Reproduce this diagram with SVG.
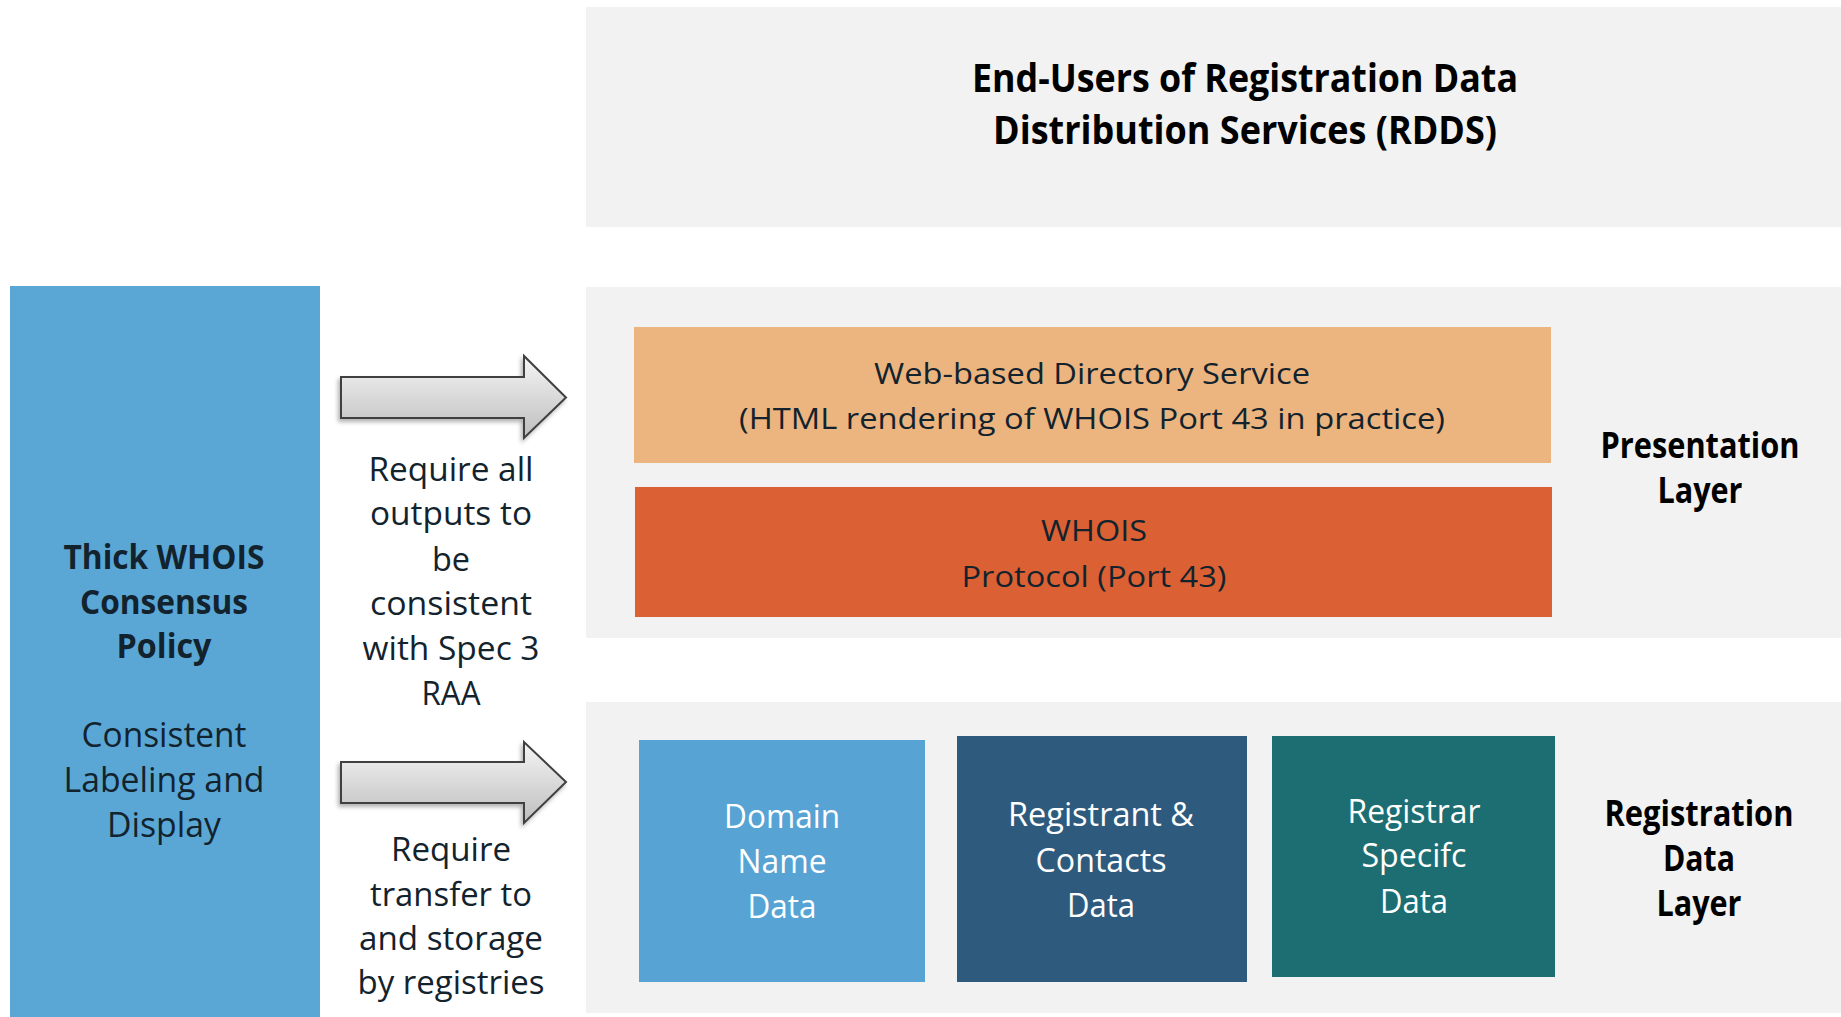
<svg xmlns="http://www.w3.org/2000/svg" width="1841" height="1017" viewBox="0 0 1841 1017">
<style>
.layer{fill:#F2F2F2}
.t{font-family:"Open Sans","Noto Sans","Liberation Sans",sans-serif;text-anchor:middle}
.dark{fill:#13232D}
.blk{fill:#000000}
.wht{fill:#FFFFFF}
.b{font-weight:bold}
.arrow{fill:url(#ag);stroke:#3F3F3F;stroke-width:2;filter:url(#sh)}
</style>
<defs>
<linearGradient id="ag" x1="0" y1="0" x2="0" y2="1">
<stop offset="0" stop-color="#F5F5F5"/>
<stop offset="1" stop-color="#BEBEBE"/>
</linearGradient>
<filter id="sh" x="-10%" y="-20%" width="120%" height="150%">
<feDropShadow dx="-2" dy="3" stdDeviation="2" flood-color="#000" flood-opacity="0.3"/>
</filter>
</defs>
<rect width="1841" height="1017" fill="#FFFFFF"/>

<g id="end-users">
<rect class="layer" x="586" y="7" width="1255" height="220"/>
<text class="t blk b" x="1245" y="92" font-size="40" textLength="546" lengthAdjust="spacingAndGlyphs">End-Users of Registration Data</text>
<text class="t blk b" x="1245" y="144" font-size="40" textLength="504" lengthAdjust="spacingAndGlyphs">Distribution Services (RDDS)</text>
</g>

<g id="presentation-layer">
<rect class="layer" x="586" y="287" width="1255" height="351"/>
<text class="t blk b" x="1700" y="458" font-size="35" textLength="199" lengthAdjust="spacingAndGlyphs">Presentation</text>
<text class="t blk b" x="1700" y="503" font-size="35" textLength="85" lengthAdjust="spacingAndGlyphs">Layer</text>
</g>

<g id="registration-layer">
<rect class="layer" x="586" y="702" width="1255" height="311"/>
<text class="t blk b" x="1699" y="826" font-size="35" textLength="189" lengthAdjust="spacingAndGlyphs">Registration</text>
<text class="t blk b" x="1699" y="871" font-size="35" textLength="72" lengthAdjust="spacingAndGlyphs">Data</text>
<text class="t blk b" x="1699" y="916" font-size="35" textLength="85" lengthAdjust="spacingAndGlyphs">Layer</text>
</g>

<g id="thick-whois">
<rect x="10" y="286" width="310" height="731" fill="#5AA7D6"/>
<text class="t dark b" x="164" y="569" font-size="34" textLength="201" lengthAdjust="spacingAndGlyphs">Thick WHOIS</text>
<text class="t dark b" x="164" y="614" font-size="34" textLength="168" lengthAdjust="spacingAndGlyphs">Consensus</text>
<text class="t dark b" x="164" y="658" font-size="34" textLength="95" lengthAdjust="spacingAndGlyphs">Policy</text>
<text class="t dark" x="164" y="747" font-size="34" textLength="165" lengthAdjust="spacingAndGlyphs">Consistent</text>
<text class="t dark" x="164" y="792" font-size="34" textLength="201" lengthAdjust="spacingAndGlyphs">Labeling and</text>
<text class="t dark" x="164" y="837" font-size="34" textLength="114" lengthAdjust="spacingAndGlyphs">Display</text>
</g>

<g id="web-directory">
<rect x="634" y="327" width="917" height="136" fill="#ECB47F"/>
<text class="t dark" x="1092" y="384" font-size="30" textLength="436" lengthAdjust="spacingAndGlyphs">Web-based Directory Service</text>
<text class="t dark" x="1092" y="429" font-size="30" textLength="706" lengthAdjust="spacingAndGlyphs">(HTML rendering of WHOIS Port 43 in practice)</text>
</g>

<g id="whois-protocol">
<rect x="635" y="487" width="917" height="130" fill="#DB6034"/>
<text class="t dark" x="1094" y="541" font-size="30" textLength="106" lengthAdjust="spacingAndGlyphs">WHOIS</text>
<text class="t dark" x="1094" y="587" font-size="30" textLength="265" lengthAdjust="spacingAndGlyphs">Protocol (Port 43)</text>
</g>

<g id="domain-name-data">
<rect x="639" y="740" width="286" height="242" fill="#56A3D4"/>
<text class="t wht" x="782" y="828" font-size="32" textLength="116" lengthAdjust="spacingAndGlyphs">Domain</text>
<text class="t wht" x="782" y="873" font-size="32" textLength="89" lengthAdjust="spacingAndGlyphs">Name</text>
<text class="t wht" x="782" y="918" font-size="32" textLength="69" lengthAdjust="spacingAndGlyphs">Data</text>
</g>

<g id="registrant-contacts-data">
<rect x="957" y="736" width="290" height="246" fill="#2E5B7D"/>
<text class="t wht" x="1101" y="826" font-size="32" textLength="186" lengthAdjust="spacingAndGlyphs">Registrant &amp;</text>
<text class="t wht" x="1101" y="872" font-size="32" textLength="131" lengthAdjust="spacingAndGlyphs">Contacts</text>
<text class="t wht" x="1101" y="917" font-size="32" textLength="68" lengthAdjust="spacingAndGlyphs">Data</text>
</g>

<g id="registrar-specific-data">
<rect x="1272" y="736" width="283" height="241" fill="#1D6E72"/>
<text class="t wht" x="1414" y="823" font-size="32" textLength="133" lengthAdjust="spacingAndGlyphs">Registrar</text>
<text class="t wht" x="1414" y="867" font-size="32" textLength="105" lengthAdjust="spacingAndGlyphs">Specifc</text>
<text class="t wht" x="1414" y="913" font-size="32" textLength="68" lengthAdjust="spacingAndGlyphs">Data</text>
</g>

<g id="connectors">
<g id="arrow-outputs">
<polygon class="arrow" points="341,377 524,377 524,356 566,397.5 524,438 524,418 341,418"/>
<text class="t dark" x="451" y="481" font-size="33" textLength="165" lengthAdjust="spacingAndGlyphs">Require all</text>
<text class="t dark" x="451" y="525" font-size="33" textLength="162" lengthAdjust="spacingAndGlyphs">outputs to</text>
<text class="t dark" x="451" y="571" font-size="33" textLength="38" lengthAdjust="spacingAndGlyphs">be</text>
<text class="t dark" x="451" y="615" font-size="33" textLength="162" lengthAdjust="spacingAndGlyphs">consistent</text>
<text class="t dark" x="451" y="660" font-size="33" textLength="177" lengthAdjust="spacingAndGlyphs">with Spec 3</text>
<text class="t dark" x="451" y="705" font-size="33" textLength="59" lengthAdjust="spacingAndGlyphs">RAA</text>
</g>
<g id="arrow-transfer">
<polygon class="arrow" points="341,762 524,762 524,742 566,782 524,823 524,803 341,803"/>
<text class="t dark" x="451" y="861" font-size="33" textLength="120" lengthAdjust="spacingAndGlyphs">Require</text>
<text class="t dark" x="451" y="906" font-size="33" textLength="162" lengthAdjust="spacingAndGlyphs">transfer to</text>
<text class="t dark" x="451" y="950" font-size="33" textLength="184" lengthAdjust="spacingAndGlyphs">and storage</text>
<text class="t dark" x="451" y="994" font-size="33" textLength="187" lengthAdjust="spacingAndGlyphs">by registries</text>
</g>
</g>
</svg>
